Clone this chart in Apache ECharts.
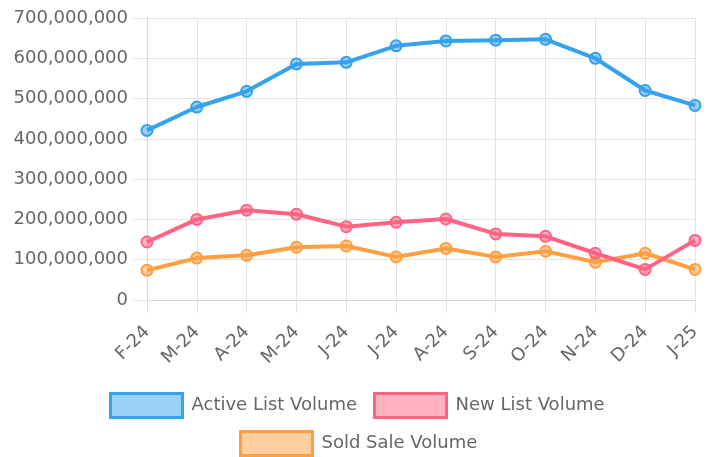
<!DOCTYPE html>
<html lang="en">
<head>
    <meta charset="UTF-8">
    <title>List and Sale Volume</title>
    <script src="https://cdn.jsdelivr.net/npm/echarts@6/dist/echarts.min.js"></script>
    <style>
        html, body { margin: 0; padding: 0; background: #fff; }
    </style>
</head>
<body>
<div id="main" style="width:712px;height:457px;"></div>
<script type="text/javascript">
    // months on the x axis
    var months = ['F-24', 'M-24', 'A-24', 'M-24', 'J-24', 'J-24', 'A-24', 'S-24', 'O-24', 'N-24', 'D-24', 'J-25'];
    // values
    var activeList = [421e6, 479e6, 518e6, 586e6, 590e6, 631e6, 643e6, 645e6, 647e6, 600e6, 520e6, 483e6];
    var newList = [144e6, 200e6, 223e6, 213e6, 182e6, 193e6, 201e6, 164e6, 158e6, 116e6, 76e6, 148e6];
    var soldSale = [74e6, 104e6, 111e6, 131e6, 134e6, 107e6, 128e6, 107e6, 121e6, 94e6, 116e6, 76e6];
    var seriesNames = ['Active List Volume', 'New List Volume', 'Sold Sale Volume'];
    var seriesColors = ['#36a2eb', '#ff6384', '#ff9f40'];
    var seriesFills = ['rgba(54,162,235,0.5)', 'rgba(255,99,132,0.5)', 'rgba(255,159,64,0.5)'];

    var font = 'DejaVu Sans';
    var gridColor = '#e4e4e4';

    function lineSeries(i, data, z) {
        return {
            name: seriesNames[i],
            type: 'line',
            data: data,
            z: z,
            symbol: 'circle',
            symbolSize: 11,
            lineStyle: { color: seriesColors[i], width: 4 },
            itemStyle: { color: seriesFills[i], borderColor: seriesColors[i], borderWidth: 2 },
            emphasis: { disabled: true }
        };
    }

    function legendItem(i) {
        return {
            name: seriesNames[i],
            icon: 'rect',
            itemStyle: { color: seriesFills[i], borderColor: seriesColors[i], borderWidth: 3 }
        };
    }

    var legendText = { color: '#666', fontSize: 18, fontFamily: font, padding: [0, 0, 0, 4] };

    var myChart = echarts.init(document.getElementById('main'));
    var option = {
        animation: false,
        grid: { left: 147, right: 17, top: 18, bottom: 157, containLabel: false },
        legend: [{
            left: 104, top: 387,
            itemWidth: 72, itemHeight: 24, itemGap: 16,
            selectedMode: false,
            textStyle: legendText,
            data: [legendItem(0), legendItem(1)]
        }, {
            left: 234, top: 425,
            itemWidth: 72, itemHeight: 24,
            selectedMode: false,
            textStyle: legendText,
            data: [legendItem(2)]
        }],
        xAxis: {
            type: 'category',
            boundaryGap: false,
            data: months,
            axisLine: { lineStyle: { color: '#d6d6d6', width: 1 } },
            axisTick: { show: true, length: 13, lineStyle: { color: gridColor } },
            splitLine: { show: true, lineStyle: { color: gridColor } },
            axisLabel: {
                interval: 0, rotate: 45, margin: 29,
                color: '#666', fontSize: 18, fontFamily: font
            }
        },
        yAxis: {
            type: 'value',
            min: 0, max: 700e6, interval: 100e6,
            axisLine: { show: true, lineStyle: { color: '#d6d6d6' } },
            axisTick: { show: true, length: 14, lineStyle: { color: gridColor } },
            splitLine: { lineStyle: { color: gridColor } },
            axisLabel: {
                margin: 19, color: '#666', fontSize: 18, fontFamily: font,
                formatter: function (v) { return v.toLocaleString('en-US'); }
            }
        },
        series: [
            lineSeries(0, activeList, 4),
            lineSeries(1, newList, 3),
            lineSeries(2, soldSale, 2)
        ]
    };
    myChart.setOption(option);
</script>
</body>
</html>
